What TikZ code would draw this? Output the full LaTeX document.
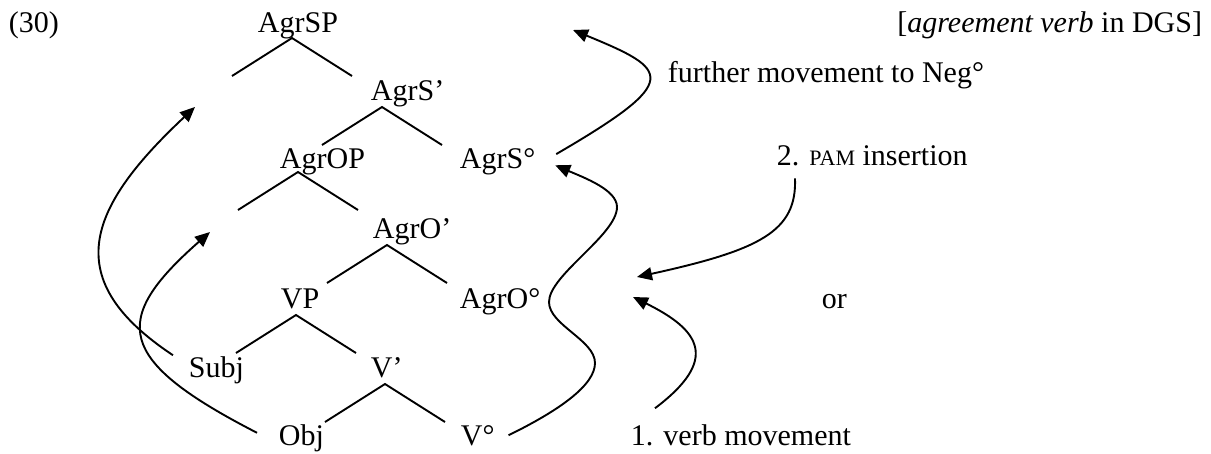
\documentclass[tikz,border=0pt]{standalone}
\usepackage{fontspec}
\setmainfont{Liberation Serif}
\usetikzlibrary{arrows.meta,calc}

\tikzset{lbl/.style={inner sep=0, anchor=base west}}
\newcommand{\smcap}[1]{{\fontsize{22}{24}\selectfont #1}}

\begin{document}
\begin{tikzpicture}[x=1pt,y=-1pt,line width=1.9pt,>={Triangle[length=15pt,width=13pt]}]
\fontsize{30}{36}\selectfont
\useasboundingbox (0,0) rectangle (1211,453);
% labels
\node[lbl] (ex) at (8,32) {(30)};
\node[lbl,anchor=base east] (title) at (1203,32) {[\textit{agreement verb} in DGS]};
\node[lbl] (agrsp) at (257,32) {AgrSP};
\node[lbl] (agrsbar) at (370,100) {AgrS’};
\node[lbl] (agrop) at (279,168) {AgrOP};
\node[lbl] (agrs0) at (459,168) {AgrS°};
\node[lbl] (agrobar) at (372,238) {AgrO’};
\node[lbl] (vp) at (280,308) {VP};
\node[lbl] (agro0) at (459,308) {AgrO°};
\node[lbl] (subj) at (188,377) {Subj};
\node[lbl] (vbar) at (370,377) {V’};
\node[lbl] (obj) at (278,445) {Obj};
\node[lbl] (v0) at (460,445) {V°};
\node[lbl] (further) at (667,82) {further movement to Neg°};
\node[lbl] (pam) at (776,165) {2. \smcap{PAM} insertion};
\node[lbl] (or) at (821,308) {or};
\node[lbl] (verbmv) at (630,445) {1. verb movement};
% branches
\foreach \ax/\ay in {292/38,382/107,298/172,387/245,296/315,385/384}
  \draw (\ax-60,\ay+38) -- (\ax,\ay) -- (\ax+60,\ay+38);
% landing sites
\coordinate (specs) at (195,107);
\coordinate (speco) at (210,232);
\coordinate (negtip) at (573,30);
\coordinate (pamtip) at (637,277);
\coordinate (verbtip) at (633,297);
% movement
\draw[->] ($(subj.north west)+(-15,0)$) .. controls +(-113,-75) and +(-110,103) .. (specs);
\draw[->] ($(obj.west)+(-21,-5)$) .. controls +(-142,-73) and +(-100,88) .. (speco);
\draw[->] ($(v0.east)+(13,0)$) .. controls (560,410) and (595,385) .. (595,363)
  .. controls (595,340) and (549,325) .. (549,302)
  .. controls (549,275) and (617,235) .. (617,207)
  .. controls (617,190) and (585,178) .. ($(agrs0.east)+(19,4)$);
\draw[->] ($(agrs0.north east)+(20,7)$) .. controls +(127,-74) and +(97,40) .. (negtip);
\draw[->] ($(pam.south west)+(19,12)$) .. controls +(2,53) and +(123,-27) .. (pamtip);
\draw[->] ($(verbmv.north west)+(25,-15)$) .. controls +(65,-49) and +(67,33) .. (verbtip);
\end{tikzpicture}
\end{document}
